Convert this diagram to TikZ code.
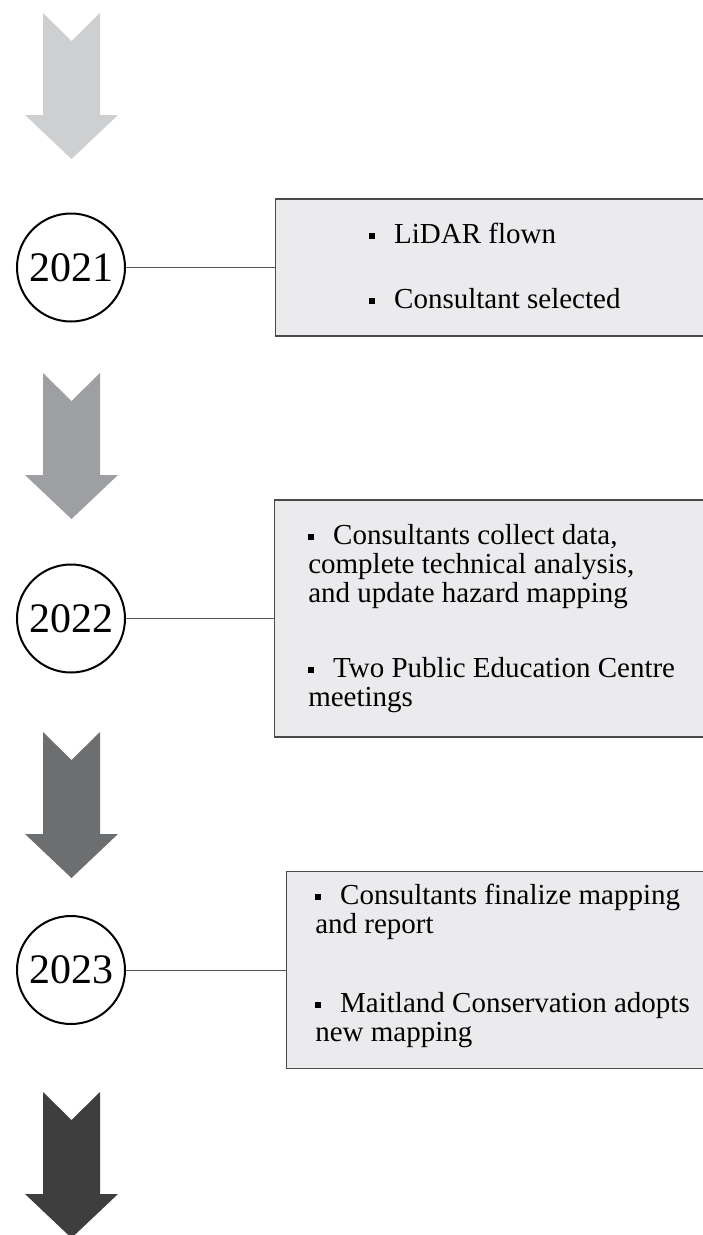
\documentclass[tikz,border=0pt]{standalone}
\usepackage{fontspec}
\setmainfont{Liberation Serif}
\usetikzlibrary{positioning}
\definecolor{arrowone}{RGB}{205,207,209}
\definecolor{arrowtwo}{RGB}{157,159,162}
\definecolor{arrowthree}{RGB}{109,110,112}
\definecolor{arrowfour}{RGB}{62,62,63}
\definecolor{boxfill}{RGB}{235,235,237}
\definecolor{boxline}{RGB}{74,74,74}
\definecolor{linkgrey}{RGB}{85,85,85}
\newcommand{\sqbul}{\raisebox{0.16em}{\rule{0.2em}{0.2em}}\hspace{0.66em}}
\begin{document}
\begin{tikzpicture}[x=0.75pt, y=-0.75pt,
  year/.style={circle, draw=black, line width=1.5pt, minimum size=81pt, inner sep=0pt, font=\fontsize{31.5pt}{31.5pt}\selectfont},
  notebox/.style={draw=boxline, fill=boxfill, line width=0.8pt, anchor=west, inner sep=0pt},
  notetext/.style={anchor=north west, inner sep=0pt, align=left, font=\fontsize{21.75pt}{21.75pt}\selectfont},
  link/.style={draw=linkgrey, line width=0.75pt}]
\useasboundingbox (0,0) rectangle (703,1235);

% arrows
\foreach \y/\c in {13/arrowone, 373/arrowtwo, 732/arrowthree, 1092/arrowfour}
  \fill[\c] (43,\y) -- (71.5,\y+28) -- (100,\y) -- (100,\y+102) -- (118,\y+102)
    -- (71.5,\y+146) -- (25,\y+102) -- (43,\y+102) -- cycle;

% years
\node[year] (y21) at (71,267.5) {2021};
\node[year] (y22) at (71,618.5) {2022};
\node[year] (y23) at (71,970) {2023};

% boxes
\node[notebox, minimum width=340pt, minimum height=102.75pt] (b21) at (275,267.5) {};
\node[notebox, minimum width=340pt, minimum height=177.75pt] (b22) at (274,618.5) {};
\node[notebox, minimum width=332pt, minimum height=147.75pt] (b23) at (286,970) {};

\node[notetext] (t21) at ([shift={(94,24)}]b21.north west)
  {\sqbul LiDAR flown\\[27pt]\sqbul Consultant selected};
\node[notetext] (t22) at ([shift={(34,25)}]b22.north west)
  {\sqbul Consultants collect data,\\complete technical analysis,\\and update hazard mapping\\[34.5pt]\sqbul Two Public Education Centre\\meetings};
\node[notetext] (t23) at ([shift={(29,13)}]b23.north west)
  {\sqbul Consultants finalize mapping\\and report\\[37.5pt]\sqbul Maitland Conservation adopts\\new mapping};

% links
\draw[link] (y21) -- (b21);
\draw[link] (y22) -- (b22);
\draw[link] (y23) -- (b23);

\end{tikzpicture}
\end{document}
